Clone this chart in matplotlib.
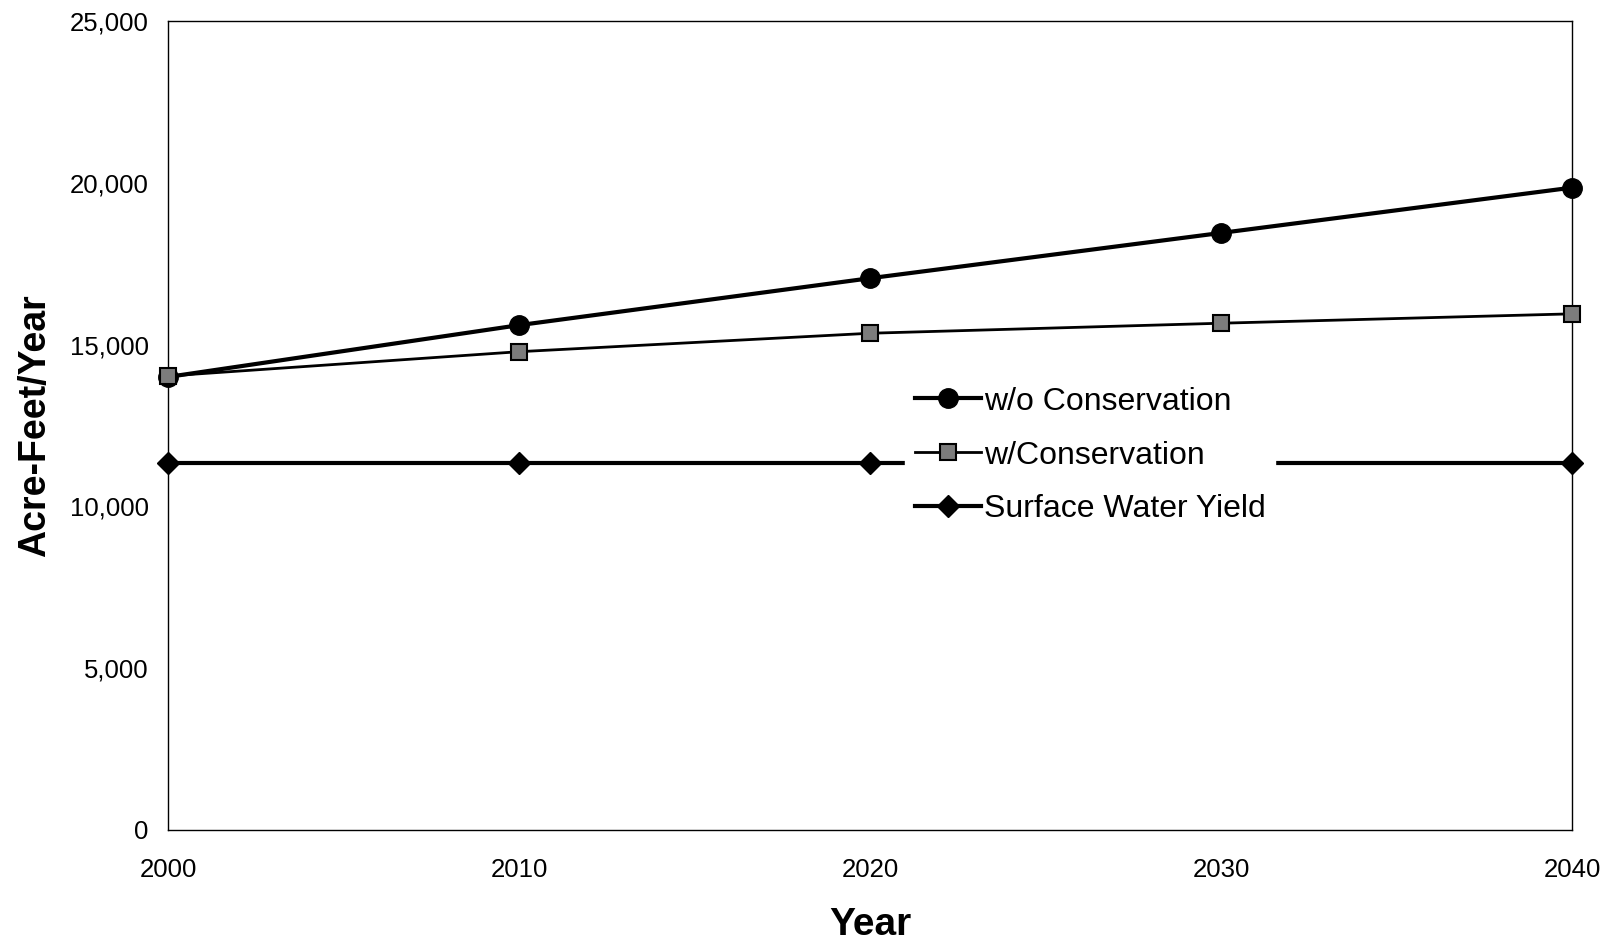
import matplotlib
matplotlib.use("Agg")
import matplotlib.pyplot as plt

plt.rcParams['font.family'] = ['Liberation Sans', 'DejaVu Sans']

years = [2000, 2010, 2020, 2030, 2040]
without_conservation = [14000, 15600, 17050, 18450, 19850]
with_conservation = [14030, 14780, 15350, 15660, 15950]
surface_water_yield = [11330, 11330, 11330, 11330, 11330]

series_labels = ["w/o Conservation", "w/Conservation", "Surface Water Yield"]
y_ticks = [0, 5000, 10000, 15000, 20000, 25000]
x_ticks = [2000, 2010, 2020, 2030, 2040]

fig = plt.figure(figsize=(16.14, 9.41), dpi=100)
ax = fig.add_axes([0.1041, 0.1180, 0.8699, 0.8597])

ax.plot(years, without_conservation, color="black", lw=3.0, marker="o",
        ms=14, mfc="black", mec="black", label=series_labels[0],
        zorder=3, clip_on=False)
ax.plot(years, with_conservation, color="black", lw=2.0, marker="s",
        ms=11.5, mfc="#7c7c7c", mec="black", mew=1.5, label=series_labels[1],
        zorder=3, clip_on=False)
ax.plot(years, surface_water_yield, color="black", lw=3.0, marker="D",
        ms=11, mfc="black", mec="black", label=series_labels[2],
        zorder=3, clip_on=False)

ax.set_xlim(2000, 2040)
ax.set_ylim(0, 25000)
ax.set_xticks(x_ticks)
ax.set_xticklabels([str(x) for x in x_ticks])
ax.set_yticks(y_ticks)
ax.set_yticklabels([f"{v:,}" for v in y_ticks])
ax.tick_params(axis="both", length=0, labelsize=18.5)
ax.tick_params(axis="x", pad=20)
ax.tick_params(axis="y", pad=14)

for sp in ax.spines.values():
    sp.set_linewidth(1.0)
    sp.set_color("black")

ax.set_xlabel("Year", fontsize=28, fontweight="bold", va="top")
ax.xaxis.set_label_coords(0.5, -0.095)
ax.set_ylabel("Acre-Feet/Year", fontsize=27, fontweight="bold")
ax.yaxis.set_label_coords(-0.0819, 0.5)

leg = ax.legend(loc="upper left", bbox_to_anchor=(889 / 1614, 1 - 361 / 941),
                bbox_transform=fig.transFigure, frameon=True, fancybox=False,
                facecolor="white", edgecolor="white", framealpha=1.0,
                fontsize=23, handlelength=2.07, handletextpad=0.1,
                labelspacing=0.75, borderpad=0.3)
leg.set_zorder(5)

fig.savefig("out.png", dpi=100, facecolor="white")
